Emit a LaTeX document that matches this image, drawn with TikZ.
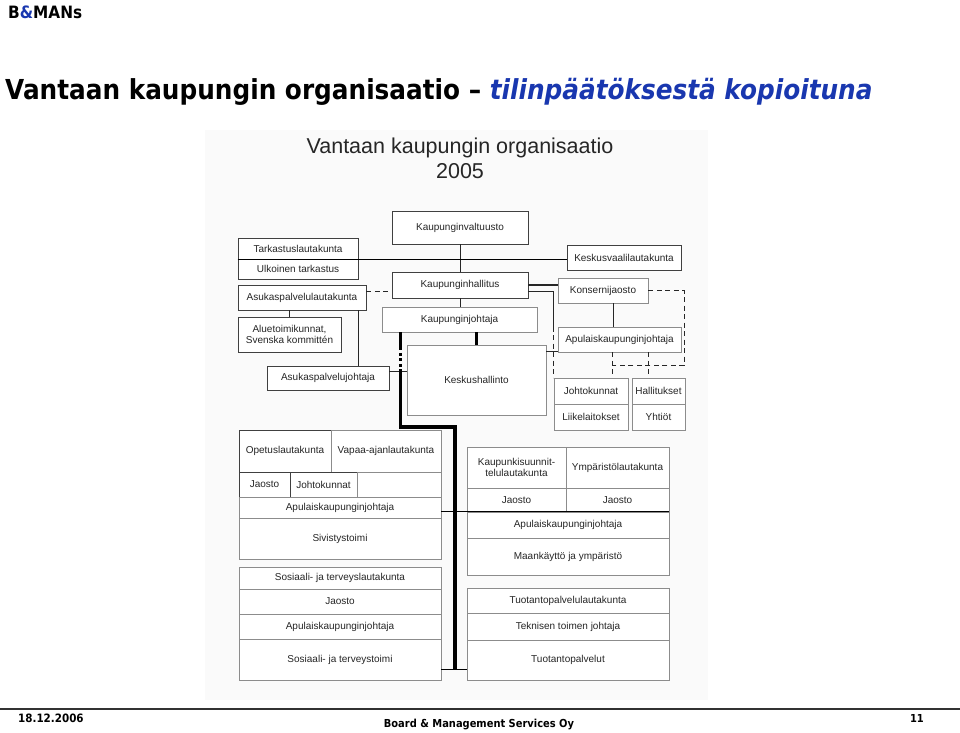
\documentclass[tikz,border=0pt]{standalone}
\usepackage{fontspec}
\setmainfont{Liberation Sans}
\newfontfamily\verdana{DejaVu Sans}[FakeStretch=0.9]
\definecolor{bmblue}{RGB}{25,55,175}

\begin{document}
\begin{tikzpicture}[x=1pt, y=-1pt,
	box/.style={draw=black!75, line width=0.9pt, fill=white, inner sep=0pt, text=black!85, align=center, font=\fontsize{10}{10.5}\selectfont},
	pale/.style={box, draw=black!45},
	wh/.style 2 args={minimum width=#1pt, minimum height=#2pt},
	link/.style={line width=0.9pt, black!85},
	dash5/.style={dash pattern=on 5pt off 3.5pt},
	trunk/.style={line width=3.5pt, black},
	branch/.style={line width=1.8pt, black}]
	\useasboundingbox (0,0) rectangle (960,732);
	\fill[black!2] (205,130) rectangle (708,700);

	\draw node[anchor=base west, inner sep=0pt, font=\verdana\bfseries\fontsize{17}{17}\selectfont] at (8, 18.5) (logo) {B\textcolor{bmblue}{\&}MANs};
	\draw node[anchor=base west, inner sep=0pt, font=\verdana\bfseries\fontsize{27.5}{27.5}\selectfont] at (5, 99) (otsikko) {Vantaan kaupungin organisaatio – \textcolor{bmblue}{\itshape tilinpäätöksestä kopioituna}};
	\draw node[anchor=base, inner sep=0pt, text=black!85, font=\fontsize{21.5}{21.5}\selectfont] at (460, 153) (kuvaotsikko) {Vantaan kaupungin organisaatio};
	\draw node[anchor=base, inner sep=0pt, text=black!85, font=\fontsize{21.5}{21.5}\selectfont] at (460, 178) (vuosi) {2005};

	\draw node[box, wh={136}{33}] at (460, 227.5) (valtuusto) {Kaupunginvaltuusto};
	\draw node[box, wh={114}{25}] at (624, 257.5) (vaali) {Keskusvaalilautakunta};
	\draw node[box, wh={120}{21}] at (298, 248.5) (tarkastus) {Tarkastuslautakunta};
	\draw node[box, wh={120}{20}] at (298, 269) (ulkoinen) {Ulkoinen tarkastus};
	\draw node[box, wh={136}{26}] at (460, 285) (hallitus) {Kaupunginhallitus};
	\draw node[box, wh={128}{25}] at (302, 297.5) (asukaslk) {Asukaspalvelulautakunta};
	\draw node[pale, wh={155}{25}] at (459.5, 319.5) (johtaja) {Kaupunginjohtaja};
	\draw node[pale, wh={90}{25}] at (603, 290.5) (konserni) {Konsernijaosto};
	\draw node[pale, wh={123}{25}] at (619.5, 339.5) (apulais) {Apulaiskaupunginjohtaja};
	\draw node[box, wh={103}{35}] at (289.5, 334.5) (alue) {Aluetoimikunnat,\\Svenska kommittén};
	\draw node[box, wh={122}{24}] at (328, 378) (asukasjoht) {Asukaspalvelujohtaja};
	\draw node[pale, wh={139}{70}] at (476.5, 380) (keskus) {Keskushallinto};
	\draw node[pale, wh={74}{26}] at (591, 391) (johtokunnat) {Johtokunnat};
	\draw node[pale, wh={74}{26}] at (591, 417) (liike) {Liikelaitokset};
	\draw node[pale, wh={53}{26}] at (658.5, 391) (hallitukset) {Hallitukset};
	\draw node[pale, wh={53}{26}] at (658.5, 417) (yhtiot) {Yhtiöt};

	\draw node[box, wh={92}{42}] at (285, 451) (opetus) {Opetuslautakunta};
	\draw node[pale, wh={110}{42}] at (386, 451) (vapaa) {Vapaa-ajanlautakunta};
	\draw node[box, wh={51}{25}] at (264.5, 484.5) (jaosto1) {Jaosto};
	\draw node[box, wh={67}{25}] at (323.5, 484.5) (johtok1) {Johtokunnat};
	\draw node[pale, wh={84}{25}] at (399, 484.5) (tyhja) {};
	\draw node[pale, wh={202}{21}] at (340, 507.5) (apulais1) {Apulaiskaupunginjohtaja};
	\draw node[pale, wh={202}{41}] at (340, 538.5) (sivistys) {Sivistystoimi};

	\draw node[pale, wh={99}{41}] at (516.5, 467.5) (kaupsuun) {Kaupunkisuunnit-\\telulautakunta};
	\draw node[pale, wh={103}{41}] at (617.5, 467.5) (ymparisto) {Ympäristölautakunta};
	\draw node[pale, wh={99}{24}] at (516.5, 500) (jaosto2) {Jaosto};
	\draw node[pale, wh={103}{24}] at (617.5, 500) (jaosto3) {Jaosto};
	\draw node[pale, wh={202}{26}] at (568, 525) (apulais2) {Apulaiskaupunginjohtaja};
	\draw node[pale, wh={202}{37}] at (568, 556.5) (maankaytto) {Maankäyttö ja ympäristö};

	\draw node[pale, wh={202}{22}] at (340, 578) (sosltk) {Sosiaali- ja terveyslautakunta};
	\draw node[pale, wh={202}{25}] at (340, 601.5) (jaosto4) {Jaosto};
	\draw node[pale, wh={202}{25}] at (340, 626.5) (apulais3) {Apulaiskaupunginjohtaja};
	\draw node[pale, wh={202}{41}] at (340, 659.5) (sostoimi) {Sosiaali- ja terveystoimi};

	\draw node[pale, wh={202}{25}] at (568, 600.5) (tuotltk) {Tuotantopalvelulautakunta};
	\draw node[pale, wh={202}{27}] at (568, 626.5) (teknisen) {Teknisen toimen johtaja};
	\draw node[pale, wh={202}{40}] at (568, 660) (tuotpalv) {Tuotantopalvelut};

	\draw [link] (valtuusto.south) -- (valtuusto.south |- hallitus.north);
	\draw [link] (hallitus.south) -- (hallitus.south |- johtaja.north);
	\draw [black, line width=1.5pt] (tarkastus.south west) -- (tarkastus.south west -| vaali.west);
	\draw [link, line width=1.5pt] (hallitus.east) -- (hallitus.east -| konserni.west);
	\draw [link] ([yshift=-6pt]hallitus.east) -| (johtokunnat.north west |- apulais.north);
	\draw [link, dash5] (johtokunnat.north west |- apulais.north) -- (johtokunnat.north west);
	\draw [link, dash5] ([yshift=6pt]asukaslk.east) -- ([yshift=6pt]asukaslk.east -| hallitus.west);
	\draw [link] ([xshift=10pt]konserni.south) -- ([xshift=10pt]konserni.south |- apulais.north);
	\draw [link] ([yshift=-7pt]keskus.north east) -- ([yshift=-7pt]keskus.north east -| apulais.west);

	\coordinate (tytar) at (612, 365);
	\draw [link, dash5] (konserni.east) -| ([xshift=-1pt]hallitukset.east |- tytar) -- (tytar);
	\draw [link, dash5] (apulais.south -| tytar) -- (johtokunnat.north -| tytar);
	\draw [link, dash5] ([xshift=-10.5pt]hallitukset.north |- apulais.south) -- ([xshift=-10.5pt]hallitukset.north);

	\draw [link] (alue.north |- asukaslk.south) -- (alue.north);
	\draw [link] ([xshift=-8pt]asukaslk.south east) -- ([xshift=-8pt]asukaslk.south east |- asukasjoht.north);
	\draw [link] ([yshift=7pt]asukasjoht.east) -- ([yshift=7pt]asukasjoht.east -| keskus.west);

	\draw [trunk] (keskus.north |- johtaja.south) -- (keskus.north);
	\coordinate (runko) at (455, 427);
	\coordinate (alahaara) at ([yshift=-10pt]sostoimi.east);
	\draw [trunk] ([xshift=19pt]johtaja.south west) -- ++(0, 15) coordinate (katko1);
	\draw [trunk, dash pattern=on 3pt off 2.5pt] (katko1) -- ++(0, 23) coordinate (katko2);
	\draw [trunk] (katko2) |- (runko) -- (runko |- alahaara);
	\draw [branch] (apulais1.east |- apulais2.north) -- (apulais2.north east);
	\draw [branch] (alahaara) -- (alahaara -| tuotpalv.west);

	\draw [black!80, line width=2pt] (0, 709) -- (960, 709);
	\draw node[anchor=base west, inner sep=0pt, font=\verdana\bfseries\fontsize{11.5}{11.5}\selectfont] at (18, 722) (pvm) {18.12.2006};
	\draw node[anchor=base, inner sep=0pt, font=\verdana\bfseries\fontsize{11}{11}\selectfont] at (479, 727) (yritys) {Board \& Management Services Oy};
	\draw node[anchor=base east, inner sep=0pt, font=\verdana\bfseries\fontsize{11}{11}\selectfont] at (924, 722) (sivu) {11};
\end{tikzpicture}
\end{document}
